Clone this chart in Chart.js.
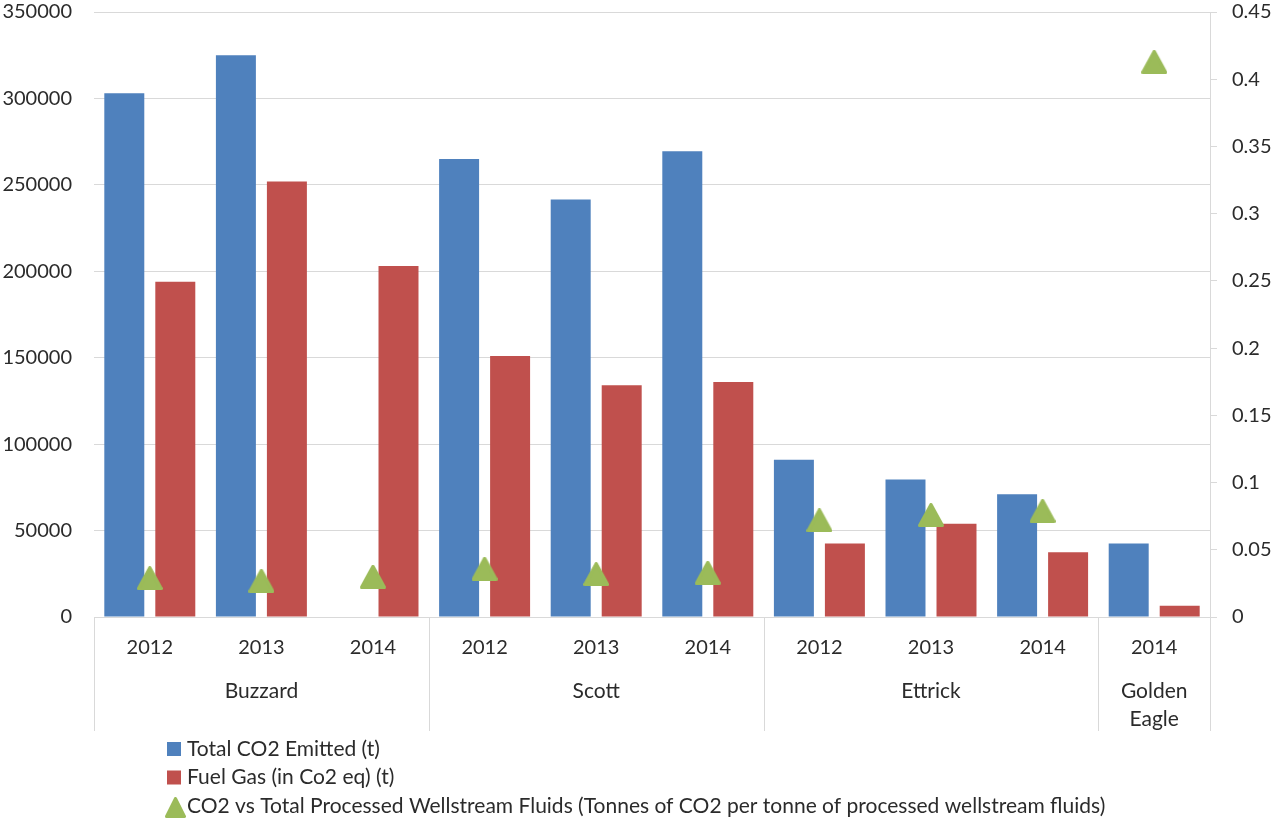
<!DOCTYPE html>
<html>
<head>
<meta charset="utf-8">
<script src="https://cdn.jsdelivr.net/npm/chart.js@4.4.1/dist/chart.umd.min.js"></script>
<style>
  body { margin: 0; background: #fff; }
  #wrap { width: 1275px; height: 825px; position: relative; }
</style>
</head>
<body>
<div id="wrap"><canvas id="chart"></canvas></div>
<script>
const years = ['2012', '2013', '2014', '2012', '2013', '2014', '2012', '2013', '2014', '2014']
const groupNames = [['Buzzard'], ['Scott'], ['Ettrick'], ['Golden', 'Eagle']]
const groupSizes = [3, 3, 3, 1]

const totalCO2 = [303000, 325000, null, 265000, 241500, 269500, 91000, 79500, 71000, 42500]
const fuelGas = [194000, 252000, 203000, 151000, 134000, 136000, 42500, 54000, 37500, 6500]
const co2Ratio = [0.029, 0.027, 0.030, 0.036, 0.032, 0.033, 0.072, 0.076, 0.079, 0.413]

const seriesNames = [
  'Total CO2 Emitted (t)',
  'Fuel Gas (in Co2 eq) (t)',
  'CO2 vs Total Processed Wellstream Fluids (Tonnes of CO2 per tonne of processed wellstream fluids)'
]

const BLUE = '#4f81bd'
const RED = '#c0504d'
const GREEN = '#9bbb59'
const TEXT = '#2b2b2b'
const GRID = '#d9d9d9'
const FONT = 'Lato, "Open Sans", sans-serif'

// rounded triangle marker, centred like the excel one
function triangle (w, h) {
  const c = document.createElement('canvas')
  c.width = w
  c.height = h
  const g = c.getContext('2d')
  g.fillStyle = GREEN
  g.strokeStyle = GREEN
  g.lineJoin = 'round'
  g.lineWidth = 3
  g.beginPath()
  g.moveTo(w / 2, 1.5)
  g.lineTo(w - 1.5, h - 1.5)
  g.lineTo(1.5, h - 1.5)
  g.closePath()
  g.fill()
  g.stroke()
  return c
}
const marker = triangle(26, 24)
const legendMarker = triangle(21, 21)

const extras = {
  id: 'extras',
  afterDraw (chart) {
    const ctx = chart.ctx
    const x = chart.scales.x
    const half = (x.getPixelForValue(1) - x.getPixelForValue(0)) / 2
    const top = x.top
    ctx.save()
    ctx.strokeStyle = GRID
    ctx.lineWidth = 1
    ctx.fillStyle = TEXT
    ctx.font = '21px ' + FONT
    ctx.textAlign = 'center'
    ctx.textBaseline = 'middle'

    let start = 0
    const edges = []
    groupSizes.forEach((n, i) => {
      const x0 = x.getPixelForValue(start) - half
      const x1 = x.getPixelForValue(start + n - 1) + half
      if (i === 0) edges.push(x0)
      edges.push(x1)
      groupNames[i].forEach((line, j) => {
        ctx.fillText(line, (x0 + x1) / 2, top + 74 + j * 28)
      })
      start += n
    })
    edges.forEach(e => {
      const px = Math.round(e) + 0.5
      ctx.beginPath()
      ctx.moveTo(px, top)
      ctx.lineTo(px, top + 114)
      ctx.stroke()
    })

    // legend, one entry per row
    ctx.textAlign = 'left'
    const lx = 167
    const ly = 749
    chart.data.datasets.forEach((ds, i) => {
      const y = ly + i * 28.5
      if (ds.type === 'line') {
        ctx.drawImage(legendMarker, lx - 2, y - 9)
      } else {
        ctx.fillStyle = ds.backgroundColor
        ctx.fillRect(lx, y - 7, 14, 14)
      }
      ctx.fillStyle = TEXT
      ctx.fillText(ds.label, lx + 20, y)
    })
    ctx.restore()
  }
}

const ctx = document.getElementById('chart').getContext('2d')
const chart = new Chart(ctx, {
  data: {
    labels: years,
    datasets: [{
      type: 'bar',
      label: seriesNames[0],
      data: totalCO2,
      backgroundColor: BLUE,
      yAxisID: 'y',
      order: 1
    }, {
      type: 'bar',
      label: seriesNames[1],
      data: fuelGas,
      backgroundColor: RED,
      yAxisID: 'y',
      order: 1
    }, {
      type: 'line',
      label: seriesNames[2],
      data: co2Ratio,
      showLine: false,
      pointStyle: marker,
      backgroundColor: GREEN,
      borderColor: GREEN,
      yAxisID: 'y2',
      order: 0
    }]
  },
  options: {
    responsive: true,
    maintainAspectRatio: false,
    animation: false,
    layout: { padding: { top: 12, left: 0, right: 0, bottom: 0 } },
    datasets: {
      bar: { categoryPercentage: 0.914, barPercentage: 0.784 }
    },
    plugins: {
      legend: { display: false },
      tooltip: { enabled: false }
    },
    scales: {
      x: {
        grid: { display: false },
        border: { display: true, color: GRID },
        ticks: { color: TEXT, font: { family: FONT, size: 20 }, padding: 11, maxRotation: 0, autoSkip: false },
        afterFit: s => { s.height = 208 }
      },
      y: {
        position: 'left',
        min: 0,
        max: 350000,
        grid: { color: GRID, drawTicks: false },
        border: { display: false },
        ticks: {
          stepSize: 50000,
          color: TEXT,
          font: { family: FONT, size: 20 },
          padding: 22,
          callback: v => String(v)
        },
        afterFit: s => { s.width = 94; s.paddingTop = 0; s.paddingBottom = 0 }
      },
      y2: {
        position: 'right',
        min: 0,
        max: 0.45,
        grid: { drawOnChartArea: false, color: GRID, tickLength: 7 },
        border: { display: true, color: GRID },
        ticks: {
          stepSize: 0.05,
          color: TEXT,
          font: { family: FONT, size: 20 },
          padding: 15,
          callback: v => String(+v.toFixed(2))
        },
        afterFit: s => { s.width = 65; s.paddingTop = 0; s.paddingBottom = 0 }
      }
    }
  },
  plugins: [extras]
})
</script>
</body>
</html>
